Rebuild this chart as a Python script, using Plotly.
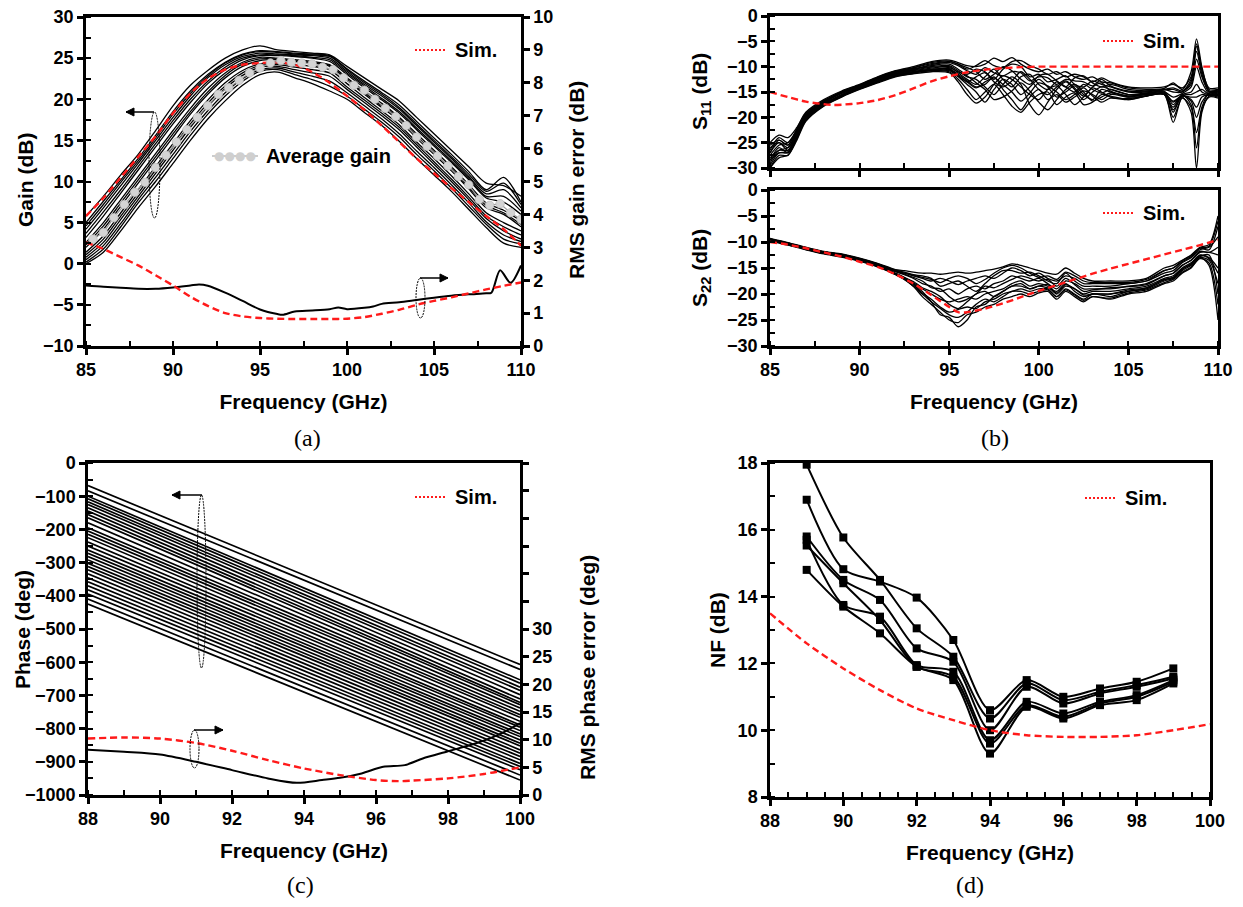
import plotly.graph_objects as go

W, H = 1243, 907
FONT = "Liberation Sans Narrow, Arial Narrow, Liberation Sans, Arial, sans-serif"
SERIF = "Liberation Serif, Times New Roman, serif"
RED = "#ff1a1a"

# ---------------- (a) Gain ----------------
gain_freq = [85, 86, 87, 88, 89, 90, 91, 92, 93, 94, 95, 96, 97, 98, 99, 100,
             101, 102, 103, 104, 105, 106, 107, 108, 109, 110]
gain_g1 = [5.8, 8.2, 10.8, 13.3, 16.2, 19.2, 21.7, 23.5, 25.0, 26.0, 26.5, 26.0, 25.8, 25.6, 25.4, 24.0, 22.6, 21.2, 19.8, 17.8, 15.8, 13.8, 11.8, 9.8, 9.5, 8.2]
gain_g2 = [5.0, 7.6, 10.2, 12.8, 15.6, 18.5, 21.0, 23.0, 24.5, 25.5, 25.9, 25.8, 25.6, 25.5, 25.3, 23.7, 22.2, 20.8, 19.3, 17.3, 15.3, 13.3, 11.2, 9.0, 10.5, 7.5]
gain_g3 = [4.2, 6.8, 9.5, 12.2, 15.0, 17.8, 20.4, 22.6, 24.2, 25.2, 25.6, 25.5, 25.4, 25.3, 25.0, 23.4, 21.8, 20.4, 18.8, 16.8, 14.8, 12.8, 10.6, 8.5, 9.0, 6.8]
gain_g4 = [3.2, 5.8, 8.6, 11.4, 14.2, 17.0, 19.6, 21.9, 23.6, 24.8, 25.3, 25.3, 25.2, 25.0, 24.6, 23.0, 21.4, 19.9, 18.3, 16.3, 14.3, 12.3, 10.2, 8.0, 7.5, 6.0]
gain_g5 = [2.6, 5.0, 7.8, 10.6, 13.4, 16.2, 18.9, 21.3, 23.2, 24.5, 25.1, 25.0, 24.8, 24.6, 24.2, 22.6, 21.0, 19.5, 17.8, 15.8, 13.8, 11.8, 9.6, 7.4, 6.5, 5.2]
gain_g6 = [2.0, 4.2, 7.0, 9.8, 12.6, 15.4, 18.2, 20.6, 22.6, 24.0, 24.7, 24.8, 24.6, 24.4, 24.0, 22.3, 20.6, 19.0, 17.4, 15.3, 13.3, 11.3, 9.1, 6.8, 6.0, 4.5]
gain_g7 = [1.4, 3.4, 6.2, 9.0, 11.8, 14.6, 17.4, 19.9, 22.0, 23.5, 24.3, 24.4, 24.2, 24.0, 23.6, 21.9, 20.2, 18.6, 16.9, 14.8, 12.8, 10.7, 8.5, 6.2, 5.0, 4.0]
gain_g8 = [0.8, 2.6, 5.4, 8.2, 11.0, 13.8, 16.6, 19.1, 21.3, 22.9, 23.9, 24.0, 23.6, 23.2, 22.8, 21.2, 19.6, 18.0, 16.3, 14.2, 12.1, 10.0, 7.8, 5.5, 4.0, 3.0]
gain_g9 = [0.2, 1.8, 4.5, 7.4, 10.0, 12.8, 15.6, 18.2, 20.4, 22.2, 23.4, 23.6, 23.0, 22.4, 21.6, 20.4, 18.8, 17.2, 15.4, 13.3, 11.3, 9.2, 7.0, 4.8, 3.0, 2.4]
gain_g10 = [0.0, 1.4, 4.0, 6.8, 9.4, 12.2, 15.0, 17.6, 19.8, 21.7, 23.0, 23.3, 22.6, 21.9, 21.0, 20.0, 18.4, 16.8, 14.9, 12.8, 10.8, 8.8, 6.6, 4.4, 2.5, 2.0]
gain_g11 = [4.6, 7.2, 9.9, 12.5, 15.3, 18.2, 20.7, 22.8, 24.4, 25.4, 25.8, 25.7, 25.5, 25.4, 25.2, 23.6, 22.0, 20.6, 19.0, 17.0, 15.0, 13.0, 10.9, 8.8, 9.8, 7.2]
gain_g12 = [3.7, 6.3, 9.0, 11.8, 14.6, 17.4, 20.0, 22.2, 23.9, 25.0, 25.4, 25.4, 25.3, 25.1, 24.8, 23.2, 21.6, 20.1, 18.5, 16.5, 14.5, 12.5, 10.4, 8.2, 8.2, 6.4]
gain_g13 = [2.3, 4.6, 7.4, 10.2, 13.0, 15.8, 18.5, 20.9, 22.9, 24.3, 24.9, 24.9, 24.7, 24.5, 24.1, 22.4, 20.8, 19.2, 17.6, 15.5, 13.5, 11.5, 9.3, 7.1, 6.2, 4.8]
gain_g14 = [1.1, 3.0, 5.8, 8.6, 11.4, 14.2, 17.0, 19.5, 21.6, 23.2, 24.1, 24.2, 23.9, 23.6, 23.2, 21.5, 19.9, 18.3, 16.6, 14.5, 12.4, 10.3, 8.1, 5.8, 4.5, 3.5]
gain_g15 = [0.5, 2.2, 4.9, 7.8, 10.5, 13.3, 16.1, 18.6, 20.8, 22.5, 23.6, 23.8, 23.3, 22.8, 22.2, 20.8, 19.2, 17.6, 15.8, 13.7, 11.7, 9.6, 7.4, 5.1, 3.5, 2.7]
gain_curves = [gain_g1, gain_g2, gain_g3, gain_g4, gain_g5, gain_g6, gain_g7, gain_g8, gain_g9, gain_g10,
               gain_g11, gain_g12, gain_g13, gain_g14, gain_g15]
gain_sim = [5.8, 8.0, 10.5, 13.0, 15.5, 18.3, 20.7, 22.5, 23.6, 24.2, 24.4, 24.5, 24.2, 23.3, 22.0, 20.4,
            18.7, 16.8, 14.8, 12.8, 11.0, 9.2, 7.5, 5.8, 4.2, 2.2]

avg_freq = [85.4, 86.0, 86.6, 87.2, 87.8, 88.4, 89.0, 89.6, 90.2, 90.8, 91.4, 92.0, 92.6, 93.2,
            93.8, 94.4, 95.0, 95.6, 96.2, 96.8, 97.4, 98.0, 98.6, 99.2, 99.8, 100.4, 101.0, 101.6,
            102.2, 102.8, 103.4, 104.0, 104.6, 105.2, 105.8, 106.4, 107.0, 107.6, 108.2, 108.8, 109.4, 110.0]
avg_gain = [3.0, 3.8, 5.6, 7.2, 8.7, 9.9, 11.7, 13.2, 14.8, 16.3, 17.8, 19.2, 20.6, 21.4,
            22.3, 23.2, 23.8, 24.4, 24.7, 24.5, 24.4, 24.3, 23.9, 23.6, 22.6, 21.7, 21.1, 20.0,
            18.9, 17.9, 16.8, 15.4, 14.3, 13.1, 11.9, 10.6, 9.6, 7.8, 7.1, 7.3, 6.2, 5.4]

rms_gain_freq = [85, 86, 87, 88, 89, 90, 91, 91.5, 92, 93, 94, 95, 96, 96.3, 97, 98, 99, 99.5,
                 100, 101, 101.5, 102, 103, 104, 105, 106, 107, 108, 108.3, 108.8, 109.4, 110]
rms_gain_meas = [1.84, 1.8, 1.77, 1.74, 1.74, 1.78, 1.84, 1.87, 1.83, 1.62, 1.37, 1.11, 0.97, 0.95,
                 1.05, 1.08, 1.12, 1.17, 1.12, 1.16, 1.2, 1.28, 1.33, 1.4, 1.47, 1.53, 1.57, 1.6,
                 1.62, 2.3, 1.92, 2.45]
rms_gain_sim = [3.15, 2.95, 2.7, 2.45, 2.15, 1.84, 1.5, 1.22, 1.0, 0.9, 0.85, 0.83, 0.82, 0.82,
                0.82, 0.83, 0.88, 0.98, 1.1, 1.25, 1.37, 1.48, 1.6, 1.72, 1.83, 1.93]

# ---------------- (b) S11 / S22 ----------------
s11_freq = [85, 85.5, 86, 86.5, 87, 88, 89, 90, 91, 92, 93, 94, 95, 95.5, 96, 96.5, 97, 97.5, 98,
            98.5, 99, 99.5, 100, 100.5, 101, 101.5, 102, 102.5, 103, 103.5, 104, 105, 106, 107,
            107.5, 108, 108.5, 108.8, 109.1, 109.5, 110]
s11_c1 = [-25, -23.5, -24, -22, -19, -16.5, -14.8, -13.5, -12, -10.8, -10, -9, -8.7, -9.2, -9.8, -10, -9.5, -8.3, -9, -8.2, -9.5, -10.5, -11, -10.5, -11.5, -11, -12, -12.5, -12, -13, -13.2, -14.2, -14.5, -14.3, -13.2, -14.5, -11, -4.5, -10, -14.5, -14.5]
s11_c2 = [-27, -24.5, -25.5, -22.5, -19.5, -17, -15.2, -13.8, -12.4, -11.2, -10.5, -9.8, -9.5, -10.5, -11.5, -10.5, -11, -12.5, -10.5, -9.5, -10, -12, -11.5, -13, -12.5, -11.8, -13.5, -14, -12.8, -13.5, -14, -15, -15, -14.5, -15, -15, -12.5, -7, -11.5, -15, -15]
s11_c3 = [-28.5, -26, -27, -23.5, -20, -17.3, -15.5, -14, -12.6, -11.5, -10.8, -10.3, -10, -11.2, -12.5, -13.5, -12, -10.5, -12.5, -14, -12, -11.5, -13.5, -14.5, -13, -14, -15, -13.5, -14.5, -15.2, -14.5, -15.5, -15.2, -15, -16, -15.3, -14, -10, -13, -15.3, -15.2]
s11_c4 = [-30, -27.5, -27.5, -24, -20.5, -17.6, -15.8, -14.3, -13, -11.8, -11.2, -10.8, -10.8, -12, -13.5, -15, -17, -14.5, -12.5, -13.5, -15.5, -14, -12.5, -14, -16, -15, -13.8, -15.5, -16.5, -14.5, -15, -16, -15.5, -15.5, -18, -15.5, -15, -13.5, -15, -15.5, -15.5]
s11_c5 = [-29, -26.5, -26, -23, -20, -17.2, -15.3, -14, -12.8, -11.6, -11, -10.5, -10.4, -11.5, -12.8, -14, -13.5, -12, -14.5, -16.5, -18.5, -16, -14.5, -16.5, -15.5, -17, -16, -14.8, -15.5, -16.5, -15.5, -16, -15.8, -15.2, -17, -15.8, -16.5, -18, -16, -15.5, -15.8]
s11_c6 = [-26, -25, -26.5, -23, -19.8, -17, -15, -13.7, -12.3, -11, -10.4, -10, -9.8, -10.8, -12, -12.5, -14, -15.5, -13.5, -12, -13.5, -17.5, -19.5, -17, -14.5, -13, -14.5, -16.5, -15, -14, -14.5, -15.5, -15.3, -14.8, -19, -15.5, -17.5, -23, -18, -15.2, -15]
s11_c7 = [-30, -28, -27.5, -24.5, -20.8, -17.8, -16, -14.5, -13.2, -12, -11.3, -10.8, -11, -12.5, -14.5, -16.5, -15, -13.5, -15.5, -17.8, -19, -17, -15.5, -15, -17.5, -16, -15.2, -17.5, -17, -15.5, -15.8, -16.5, -15.8, -15.5, -21, -16, -19, -30, -19, -15.8, -16]
s11_c8 = [-27.5, -25.5, -25, -22.5, -19.5, -16.8, -15, -13.8, -12.5, -11.3, -10.6, -9.6, -9.2, -9.8, -10.8, -11.5, -10.2, -11.2, -11.8, -11, -11.2, -12.8, -12, -12.2, -13.5, -12.5, -12.8, -13, -13.8, -12.5, -13.8, -14.8, -14.8, -14.5, -14.2, -14.8, -13.5, -8.5, -12, -14.8, -14.8]
s11_c9 = [-26.5, -24, -25, -22.8, -19.6, -16.9, -15.1, -13.7, -12.2, -11.1, -10.3, -9.4, -9.0, -9.5, -10.2, -11, -12.5, -11.5, -10, -10.8, -12.5, -13.5, -11.8, -11.5, -12.8, -14, -12.2, -11.8, -13.2, -14, -13.5, -14.5, -14.8, -14.6, -14.5, -15, -13, -6, -10.8, -14.8, -14.6]
s11_c10 = [-28, -26.5, -26.5, -23.8, -20.2, -17.4, -15.6, -14.2, -12.9, -11.7, -11, -10.6, -10.6, -11.8, -13, -12, -11.2, -13, -14, -12.8, -11, -12.5, -14.5, -15.5, -14, -12.8, -14.2, -15.8, -14, -13.2, -14.8, -15.8, -15.5, -15.2, -16.8, -15.6, -15.5, -15, -14.5, -15.5, -15.6]
s11_c11 = [-29.5, -27, -27, -24.2, -20.6, -17.7, -15.9, -14.4, -13.1, -11.9, -11.4, -11, -11.2, -13, -15.5, -17.2, -16, -13.5, -11.8, -12.5, -14, -15.5, -16.5, -14.5, -13.8, -15.5, -17.5, -16, -14.2, -15, -16, -16.3, -15.7, -15.3, -18.5, -15.8, -16, -16, -15.5, -15.7, -15.7]
s11_c12 = [-25.5, -24.5, -25.5, -22.2, -19.2, -16.7, -14.9, -13.6, -12.1, -10.9, -10.2, -9.2, -8.9, -9.5, -10.5, -9.8, -8.8, -9.8, -10.2, -9, -8.8, -9.8, -10.5, -11.5, -11, -12, -11.5, -12, -13, -12.2, -13, -14, -14.2, -14, -13.5, -14.2, -12, -5.5, -10.5, -14.2, -14.2]
s11_c13 = [-27, -25, -26, -23.2, -19.9, -17.1, -15.2, -13.9, -12.5, -11.4, -10.7, -10.1, -10.2, -11, -11.8, -13.2, -14.5, -16.5, -16, -14.8, -13.2, -14.8, -17, -18.5, -16.5, -14.5, -13.5, -15, -16.8, -16, -15.2, -15.8, -15.4, -15, -17.5, -15.7, -16.8, -20, -17, -15.4, -15.4]
s11_c14 = [-28.5, -27, -26.8, -23.8, -20.3, -17.5, -15.7, -14.2, -12.8, -11.7, -11.1, -10.6, -10.5, -11.8, -13, -14.2, -13, -12.2, -13.5, -15, -16.8, -15.2, -13.2, -13.8, -15, -16.5, -15.5, -14.2, -15.8, -17, -16.2, -16.5, -15.8, -15.5, -20, -16.2, -18, -26, -18.5, -16, -16.2]
s11_curves = [s11_c1, s11_c2, s11_c3, s11_c4, s11_c5, s11_c6, s11_c7, s11_c8, s11_c9, s11_c10,
              s11_c11, s11_c12, s11_c13, s11_c14]
s11_sim_freq = [85, 86, 87, 88, 88.5, 89, 90, 91, 92, 93, 94, 95, 96, 97, 98, 99, 100, 102, 104, 106, 108, 110]
s11_sim = [-15, -16, -16.9, -17.4, -17.55, -17.5, -17.2, -16.6, -15.6, -14.3, -12.9, -11.9, -11.1, -10.6, -10.3, -10.1, -10.0, -10.0, -10.0, -10.0, -10.0, -10.0]

s22_freq = [85, 86, 87, 88, 89, 90, 91, 92, 92.5, 93, 93.5, 94, 94.5, 95, 95.5, 96, 96.5, 97, 97.5,
            98, 98.5, 99, 99.5, 100, 100.5, 101, 101.5, 102, 102.5, 103, 104, 105, 106, 107, 107.5,
            108, 108.5, 109, 109.5, 110]
s22_d1 = [-9.3, -10.1, -11, -11.8, -12.3, -13.1, -14.1, -15.3, -15.5, -15.8, -16, -16, -16.2, -16, -15.8, -16, -15.8, -15.5, -15.2, -14.8, -14.2, -14.5, -15, -15.5, -16, -16.2, -15, -16, -17, -17.5, -17.5, -17.5, -17, -15, -14.5, -13.5, -12.5, -11, -10.5, -5]
s22_d2 = [-9.5, -10.3, -11.2, -12, -12.5, -13.3, -14.3, -15.5, -16, -16.5, -17, -17.5, -17, -17.5, -18.2, -17.5, -17, -16.5, -17, -16, -15, -15.5, -16.5, -16, -17, -17.5, -16.5, -17, -18, -18, -18, -18, -17.5, -16, -15.5, -14, -13, -11.5, -11, -9]
s22_d3 = [-9.6, -10.4, -11.3, -12.1, -12.6, -13.4, -14.5, -15.7, -16.3, -17, -18, -18.5, -19.5, -19, -20, -19, -18.5, -19, -18, -17.5, -16.5, -17, -17.5, -17, -18, -19, -17.5, -18, -19, -19, -19, -18.5, -18, -16.5, -16, -14.5, -13.5, -12, -12, -12.5]
s22_d4 = [-9.5, -10.4, -11.3, -12.2, -12.7, -13.5, -14.6, -16, -16.8, -17.8, -19, -20, -21, -21.5, -21, -20.5, -21, -20, -19.5, -19, -18, -17.5, -18.5, -18, -18.5, -20, -18.5, -19, -20, -19.5, -19.5, -19, -18.5, -17, -16.5, -15, -14, -12.5, -13, -15]
s22_d5 = [-9.7, -10.5, -11.4, -12.2, -12.8, -13.6, -14.7, -16.2, -17, -18.2, -19.8, -21, -22.5, -23.5, -23, -22.5, -22.8, -21.5, -21, -20, -19.5, -19, -19.5, -19, -19, -20.5, -19, -20, -21, -20, -20.5, -19.5, -19, -17.5, -17, -15.5, -14.5, -13, -13.5, -18]
s22_d6 = [-9.8, -10.6, -11.5, -12.3, -12.9, -13.7, -14.8, -16.3, -17.2, -18.5, -20.5, -22, -23.5, -25, -25.5, -24, -23.5, -22.5, -22, -21, -20.5, -20, -20.5, -19.8, -19.5, -21, -19.5, -20.5, -21.5, -20.5, -21, -20, -19.5, -18, -17.5, -16, -15, -13, -14.5, -25]
s22_d7 = [-9.6, -10.4, -11.3, -12.1, -12.7, -13.5, -14.6, -16.1, -17, -18, -19.5, -21.5, -24, -24.5, -26.3, -25, -22.5, -22, -20.5, -19.5, -18.5, -18.5, -19, -18.5, -18.8, -19.5, -18, -19.5, -20.5, -20, -20, -19.5, -18.8, -17.2, -16.8, -15.3, -14.2, -12.8, -12.5, -20]
s22_d8 = [-9.4, -10.2, -11.1, -11.9, -12.4, -13.2, -14.2, -15.4, -15.8, -16.3, -16.5, -17, -18.5, -18, -17.5, -18.5, -19.5, -18, -16.5, -15.5, -15.5, -16, -15.8, -16.5, -17.5, -18, -16, -17.5, -18.5, -18.5, -18.5, -18, -17.5, -15.5, -15, -13.8, -12.8, -11.2, -11.5, -7]
s22_d9 = [-9.5, -10.3, -11.2, -12, -12.6, -13.4, -14.4, -15.6, -16.2, -16.8, -17.5, -18.8, -19, -20.5, -21.5, -21, -20, -18.5, -18.8, -18, -17.2, -16.5, -17, -17.5, -17.2, -18.5, -17, -18.2, -19.5, -19.2, -18.8, -18.6, -18.2, -16.5, -16, -14.5, -13.5, -11.8, -12, -11]
s22_d10 = [-9.7, -10.5, -11.4, -12.2, -12.8, -13.6, -14.7, -16.1, -16.9, -17.6, -18.8, -19.5, -20.5, -22, -22.8, -21.5, -20, -19.5, -20.5, -19.5, -18.5, -18, -19, -18.5, -18.2, -19.8, -18.2, -19, -20.2, -20, -20, -19.2, -18.8, -17.3, -16.8, -15.2, -14.3, -12.6, -13.2, -16]
s22_d11 = [-9.4, -10.2, -11.1, -11.9, -12.4, -13.2, -14.2, -15.5, -16, -16.4, -16.8, -17.2, -17.8, -17, -16.5, -17, -18, -17.2, -16, -15, -14.5, -15, -16, -16.8, -16.5, -17.2, -15.8, -16.5, -17.5, -17.8, -17.8, -17.8, -17.2, -15.5, -15, -13.6, -12.6, -11.2, -10.8, -6]
s22_d12 = [-9.6, -10.4, -11.3, -12.1, -12.7, -13.5, -14.6, -16.2, -17.2, -18.5, -20, -21.5, -22.8, -24, -24.5, -23.5, -22, -21, -21.5, -20.5, -19.5, -19.5, -20, -19.5, -19.2, -20.5, -19.2, -20.2, -21.2, -20.5, -20.8, -19.8, -19.2, -17.8, -17.2, -15.8, -14.8, -13.2, -14, -22]
s22_curves = [s22_d1, s22_d2, s22_d3, s22_d4, s22_d5, s22_d6, s22_d7, s22_d8, s22_d9, s22_d10,
              s22_d11, s22_d12]
s22_sim_freq = [85, 86, 87, 88, 89, 90, 91, 92, 93, 94, 95, 95.5, 96, 97, 98, 99, 100, 101, 102,
                103, 104, 105, 106, 107, 108, 109, 110]
s22_sim = [-10, -10.5, -11.2, -12, -12.8, -13.8, -14.8, -16.2, -18, -20.2, -22.5, -23.5, -23.5, -22.8,
           -21.8, -20.6, -19.4, -18.3, -17.2, -16.1, -15.1, -14.2, -13.3, -12.4, -11.5, -10.6, -9.6]

# ---------------- (c) Phase ----------------
phase_freq = [88, 100]
phase_start = [-68, -84, -100, -108, -117, -125, -135, -145, -155, -165, -180, -195, -205, -215, -225, -238,
               -250, -262, -272, -282, -292, -302, -312, -322, -334, -346, -358, -370, -382, -395, -410, -425]
phase_end = [-607, -622, -653, -663, -675, -685, -698, -711, -721, -728, -738, -748, -758, -766, -778, -789,
             -796, -806, -816, -824, -834, -844, -852, -864, -874, -884, -894, -905, -914, -924, -940, -955]
rms_phase_freq = [88, 89, 90, 91, 92, 93, 93.8, 94.5, 95, 95.6, 96.2, 96.8, 97.3, 98, 98.8, 99.5, 100]
rms_phase_meas = [8.2, 7.8, 7.3, 6.0, 4.5, 3.0, 2.2, 2.7, 3.1, 3.9, 5.1, 5.4, 6.6, 7.9, 9.4, 11.2, 13.0]
rms_phase_sim_freq = [88, 89, 90, 91, 92, 93, 94, 95, 96, 96.6, 97, 98, 99, 100]
rms_phase_sim = [10.2, 10.4, 10.2, 9.4, 8.0, 6.3, 4.8, 3.6, 2.7, 2.5, 2.6, 3.0, 3.8, 5.0]
rms_phase_ticks = [0, 5, 10, 15, 20, 25, 30, 35, 40, 45, 50, 55, 60]
rms_phase_text = ["0", "5", "10", "15", "20", "25", "30", "", "", "", "", "", ""]

# ---------------- (d) NF ----------------
nf_freq = [89, 90, 91, 92, 93, 94, 95, 96, 97, 98, 99]
nf_t1 = [17.95, 15.77, 14.5, 13.05, 12.2, 10.35, 11.4, 10.9, 11.15, 11.35, 11.6]
nf_t2 = [16.9, 14.82, 14.45, 13.97, 12.7, 10.6, 11.5, 11.0, 11.25, 11.45, 11.85]
nf_t3 = [15.8, 14.5, 13.9, 12.45, 12.05, 10.0, 11.3, 10.8, 11.1, 11.3, 11.55]
nf_t4 = [15.7, 13.75, 13.4, 11.95, 11.75, 9.7, 10.85, 10.5, 10.85, 11.05, 11.5]
nf_t5 = [15.53, 14.4, 13.3, 11.9, 11.6, 9.6, 10.75, 10.4, 10.8, 11.0, 11.45]
nf_t6 = [14.8, 13.7, 12.9, 11.9, 11.5, 9.3, 10.7, 10.35, 10.75, 10.9, 11.4]
nf_curves = [nf_t1, nf_t2, nf_t3, nf_t4, nf_t5, nf_t6]
nf_sim_freq = [88, 89, 90, 91, 92, 93, 94, 95, 96, 97, 98, 99, 100]
nf_sim = [13.5, 12.6, 11.85, 11.2, 10.65, 10.3, 10.0, 9.85, 9.8, 9.8, 9.85, 10.0, 10.18]

# ---------------- figure ----------------
def px(x):
    return x / W

def py(y):
    return 1 - y / H

fig = go.Figure()
SIMDASH = "7px,4px"

def meas(x, y, xa, ya, w=1.3, shape="spline"):
    fig.add_trace(go.Scatter(x=x, y=y, xaxis=xa, yaxis=ya, mode="lines",
                             line=dict(color="black", width=w, shape=shape, smoothing=0.8),
                             showlegend=False, hoverinfo="skip"))

def sim(x, y, xa, ya):
    fig.add_trace(go.Scatter(x=x, y=y, xaxis=xa, yaxis=ya, mode="lines",
                             line=dict(color=RED, width=2.4, dash=SIMDASH, shape="spline", smoothing=0.8),
                             showlegend=False, hoverinfo="skip"))

# (a)
for c in gain_curves:
    meas(gain_freq, c, "x", "y")
sim(gain_freq, gain_sim, "x", "y")
meas(rms_gain_freq, rms_gain_meas, "x", "y2", w=2)
sim(gain_freq, rms_gain_sim, "x", "y2")
fig.add_trace(go.Scatter(x=avg_freq, y=avg_gain, xaxis="x", yaxis="y", mode="lines+markers",
                         line=dict(color="#9a9a9a", width=1.2),
                         marker=dict(color="#d4d4d4", size=8.5, line=dict(color="#bdbdbd", width=0.8)),
                         showlegend=False, hoverinfo="skip"))
# (b)
for c in s11_curves:
    meas(s11_freq, c, "x2", "y3")
sim(s11_sim_freq, s11_sim, "x2", "y3")
for c in s22_curves:
    meas(s22_freq, c, "x3", "y4")
sim(s22_sim_freq, s22_sim, "x3", "y4")
# (c)
for s, e in zip(phase_start, phase_end):
    meas(phase_freq, [s, e], "x4", "y5", w=1.7, shape="linear")
meas(rms_phase_freq, rms_phase_meas, "x4", "y6", w=2)
sim(rms_phase_sim_freq, rms_phase_sim, "x4", "y6")
# (d)
for c in nf_curves:
    fig.add_trace(go.Scatter(x=nf_freq, y=c, xaxis="x5", yaxis="y7", mode="lines+markers",
                             line=dict(color="black", width=2, shape="spline", smoothing=0.8),
                             marker=dict(symbol="square", size=8, color="black"),
                             showlegend=False, hoverinfo="skip"))
sim(nf_sim_freq, nf_sim, "x5", "y7")

TICKFONT = dict(family=FONT, size=18, color="black", weight="bold")
TITLEFONT = dict(family=FONT, size=21, color="black", weight="bold")

def axis(domain, anchor, rng, dtick, minor, title=None, showticklabels=True, side=None,
         overlaying=None, tickvals=None, ticktext=None):
    d = dict(anchor=anchor, range=rng, showgrid=False, zeroline=False,
             showline=True, linecolor="black", linewidth=2.5, mirror=True,
             ticks="outside", ticklen=6, tickwidth=2.5, tickcolor="black",
             tickfont=TICKFONT, showticklabels=showticklabels, automargin=False)
    if domain is not None:
        d["domain"] = domain
    if tickvals is not None:
        d.update(tickmode="array", tickvals=tickvals, ticktext=ticktext)
    else:
        d.update(tick0=rng[0], dtick=dtick)
    if minor:
        d["minor"] = dict(dtick=minor, ticks="inside", ticklen=5, tickwidth=2, tickcolor="black")
    if title:
        d["title"] = dict(text=title, font=TITLEFONT)
    if side:
        d["side"] = side
    if overlaying:
        d["overlaying"] = overlaying
    return d

xa_dom = [px(86), px(521)]
xb_dom = [px(770), px(1218)]
xc_dom = [px(88), px(520)]
xd_dom = [px(770), px(1210)]

fig.update_layout(
    width=W, height=H, margin=dict(l=0, r=0, t=0, b=0),
    paper_bgcolor="white", plot_bgcolor="white", showlegend=False,
    xaxis=axis(xa_dom, "y", [85, 110], 5, 2.5, "Frequency (GHz)"),
    yaxis=axis([py(346), py(17)], "x", [-10, 30], 5, 2.5),
    yaxis2=axis(None, "x", [0, 10], 1, None, side="right", overlaying="y"),
    xaxis2=axis(xb_dom, "y3", [85, 110], 5, 2.5, None, showticklabels=False),
    yaxis3=axis([py(168), py(16)], "x2", [-30, 0], 5, 2.5),
    xaxis3=axis(xb_dom, "y4", [85, 110], 5, 2.5, "Frequency (GHz)"),
    yaxis4=axis([py(346), py(190)], "x3", [-30, 0], 5, 2.5),
    xaxis4=axis(xc_dom, "y5", [88, 100], 2, 1, "Frequency (GHz)"),
    yaxis5=axis([py(795), py(463)], "x4", [-1000, 0], 100, 50),
    yaxis6=axis(None, "x4", [0, 60], None, None, side="right", overlaying="y5",
                tickvals=rms_phase_ticks, ticktext=rms_phase_text),
    xaxis5=axis(xd_dom, "y7", [88, 100], 2, 0.5, "Frequency (GHz)"),
    yaxis7=axis([py(797), py(463)], "x5", [8, 18], 2, 1),
)

shapes = []
annotations = []

def vtitle(text, x, y):
    annotations.append(dict(x=px(x), y=py(y), xref="paper", yref="paper", text=text,
                            showarrow=False, textangle=-90, xanchor="center", yanchor="middle",
                            font=TITLEFONT))

vtitle("Gain (dB)", 25, 180)
vtitle("RMS gain error (dB)", 576, 180)
vtitle("S<sub>11</sub> (dB)", 701, 92)
vtitle("S<sub>22</sub> (dB)", 701, 268)
vtitle("Phase (deg)", 22, 630)
vtitle("RMS phase error (deg)", 587, 668)
vtitle("NF (dB)", 717, 630)

def legend_sim(x0, y):
    shapes.append(dict(type="line", xref="paper", yref="paper", x0=px(x0), x1=px(x0 + 32),
                       y0=py(y), y1=py(y), line=dict(color=RED, width=2, dash="2px,2px")))
    annotations.append(dict(x=px(x0 + 38), y=py(y), xref="paper", yref="paper", text="Sim.",
                            showarrow=False, xanchor="left", yanchor="middle",
                            font=dict(family=FONT, size=20, color="black", weight="bold")))

legend_sim(415, 50)
legend_sim(1103, 41)
legend_sim(1103, 213)
legend_sim(415, 497)
legend_sim(1085, 498)

# Average gain legend
shapes.append(dict(type="line", xref="paper", yref="paper", x0=px(212), x1=px(258), y0=py(156), y1=py(156),
                   line=dict(color="#9a9a9a", width=1.2)))
annotations.append(dict(x=px(235), y=py(156), xref="paper", yref="paper",
                        text="<span style='color:#cfcfcf'>\u25cf\u25cf\u25cf\u25cf</span>",
                        showarrow=False, xanchor="center", yanchor="middle",
                        font=dict(family="DejaVu Sans", size=12)))
annotations.append(dict(x=px(264), y=py(156), xref="paper", yref="paper", text="Average gain",
                        showarrow=False, xanchor="left", yanchor="middle",
                        font=dict(family=FONT, size=20, color="black", weight="bold")))

def ellipse(x0, x1, y0, y1):
    shapes.append(dict(type="circle", xref="paper", yref="paper", x0=px(x0), x1=px(x1),
                       y0=py(y1), y1=py(y0), line=dict(color="black", width=1, dash="2px,1px")))

def arrow(xtail, xhead, y):
    shapes.append(dict(type="line", xref="paper", yref="paper", x0=px(xtail), x1=px(xhead),
                       y0=py(y), y1=py(y), line=dict(color="black", width=1.5)))
    back = 8 if xhead < xtail else -8
    path = "M {:.5f} {:.5f} L {:.5f} {:.5f} L {:.5f} {:.5f} Z".format(
        px(xhead), py(y), px(xhead + back), py(y - 4), px(xhead + back), py(y + 4))
    shapes.append(dict(type="path", xref="paper", yref="paper", path=path,
                       fillcolor="black", line=dict(color="black", width=1)))

ellipse(149, 160, 112, 218)
arrow(154, 126, 112)
ellipse(416, 425, 278, 318)
arrow(420, 448, 278)
ellipse(197, 206, 495, 668)
arrow(202, 172, 495)
ellipse(190, 199, 730, 768)
arrow(194, 223, 730)

for txt, x, y in [("(a)", 307, 438), ("(b)", 995, 438), ("(c)", 300, 885), ("(d)", 970, 885)]:
    annotations.append(dict(x=px(x), y=py(y), xref="paper", yref="paper", text=txt, showarrow=False,
                            xanchor="center", yanchor="middle",
                            font=dict(family=SERIF, size=24, color="black")))

fig.update_layout(shapes=shapes, annotations=annotations)
fig.write_html("out.html")
